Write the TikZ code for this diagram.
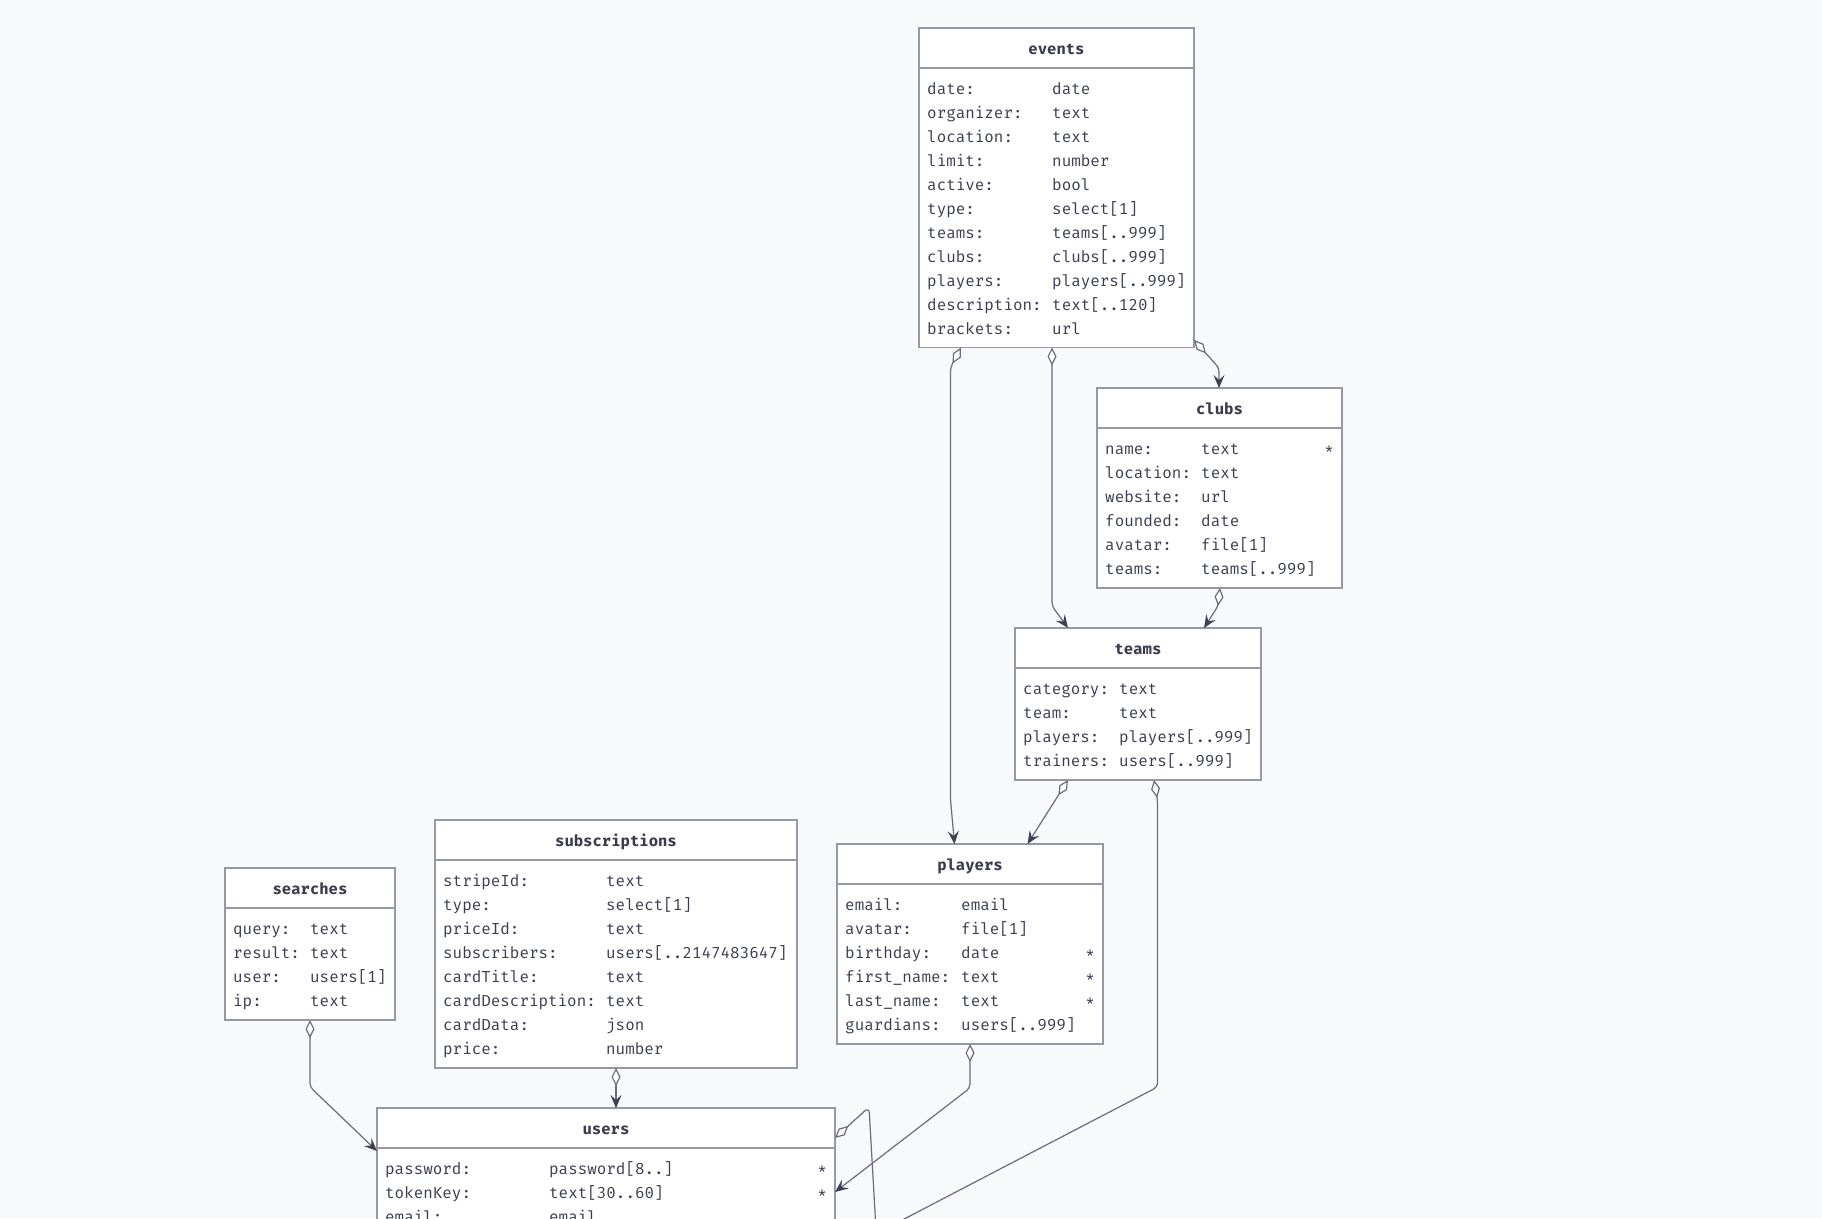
\documentclass[tikz,border=0pt]{standalone}
\usepackage{fontspec}
\setmonofont{Fira Mono}[BoldFont={Fira Mono Bold}]
\usetikzlibrary{arrows.meta,calc}
\definecolor{bg}{RGB}{248,249,251}
\definecolor{boxline}{RGB}{150,152,166}
\definecolor{txt}{RGB}{58,61,80}
\definecolor{linec}{RGB}{105,108,124}
\definecolor{arrc}{RGB}{62,65,84}
\tikzset{
  tbox/.style={draw=boxline, fill=white, line width=1.4pt, inner sep=0pt, outer sep=0pt, anchor=north west},
  hline/.style={draw=boxline, line width=1.4pt},
  ttl/.style={font=\ttfamily\bfseries\fontsize{15.6}{18}\selectfont, text=txt, anchor=base, inner sep=0pt},
  fld/.style={font=\ttfamily\fontsize{15.9}{18}\selectfont, text=txt, anchor=base west, inner sep=0pt},
  req/.style={fld, anchor=base east},
  conn/.style={draw=linec, line width=1.2pt, rounded corners=4pt,
    {Diamond[length=18pt,width=9pt,fill=white,line width=1.2pt]}-{Stealth[length=13pt,width=11pt,inset=5pt,color=arrc]}},
}
% #1 name, #2 title, #3 x, #4 y, #5 width, #6 height
\newcommand\ertable[6]{%
  \node[tbox, minimum width=#5pt, minimum height=#6pt] (#1) at (#3,#4) {};
  \draw[hline] ($(#1.north west)+(0,40)$) -- ($(#1.north east)+(0,40)$);
  \node[ttl] (#1-title) at ($(#1.north)+(0,26)$) {#2};
}
% #1 table, #2 value offset, #3 list key/value
\newcommand\errows[3]{%
  \foreach \k/\v [count=\i] in {#3} {
    \node[fld] (#1-k\i) at ($(#1.north west)+(8,{66.5+24*(\i-1)})$) {\k};
    \node[fld] (#1-v\i) at ($(#1.north west)+(#2,{66.5+24*(\i-1)})$) {\v};
  }
}
% #1 table, #2 row index
\newcommand\erstar[2]{%
  \node[req] (#1-s#2) at ($(#1.north east)+(-8,{66.5+24*(#2-1)})$) {*};
}
\begin{document}
\begin{tikzpicture}[x=1pt,y=-1pt]
\useasboundingbox (0,0) rectangle (1822,1218);
\clip (0,0) rectangle (1822,1218);
\fill[bg] (0,0) rectangle (1822,1218);

\ertable{events}{events}{919}{28}{275}{319.5}
\errows{events}{133}{date:/date, organizer:/text, location:/text, limit:/number, active:/bool, type:/select[1], teams:/teams[..999], clubs:/clubs[..999], players:/players[..999], description:/text[..120], brackets:/url}

\ertable{clubs}{clubs}{1097}{388}{245}{200}
\errows{clubs}{104}{name:/text, location:/text, website:/url, founded:/date, avatar:/file[1], teams:/teams[..999]}
\erstar{clubs}{1}

\ertable{teams}{teams}{1015}{628}{246}{152}
\errows{teams}{104}{category:/text, team:/text, players:/players[..999], trainers:/users[..999]}

\ertable{players}{players}{837}{844}{266}{200}
\errows{players}{124}{email:/email, avatar:/file[1], birthday:/date, first\_name:/text, last\_name:/text, guardians:/users[..999]}
\erstar{players}{3}
\erstar{players}{4}
\erstar{players}{5}

\ertable{searches}{searches}{225}{868}{170}{152}
\errows{searches}{85}{query:/text, result:/text, user:/users[1], ip:/text}

\ertable{subscriptions}{subscriptions}{435}{820}{362}{248}
\errows{subscriptions}{171}{stripeId:/text, type:/select[1], priceId:/text, subscribers:/users[..2147483647], cardTitle:/text, cardDescription:/text, cardData:/json, price:/number}

\ertable{users}{users}{377}{1108}{458}{400}
\errows{users}{172}{password:/password[8..], tokenKey:/text[30..60], email:/email}
\erstar{users}{1}
\erstar{users}{2}

% connectors
\draw[conn] ($(events.south west)+(42,0)$) -- ($(events.south west)+(31.5,20)$) -- ($(players.north west)+(113.5,-44)$) -- ($(players.north west)+(117.5,0)$);
\draw[conn] ($(events.south west)+(133,0)$) -- ($(teams.north west)+(37,-22)$) -- ($(teams.north west)+(53,0)$);
\draw[conn] ($(events.south east)+(0,-7.5)$) -- ($(clubs.north west)+(122,-20)$) -- ($(clubs.north west)+(122,0)$);
\draw[conn] ($(clubs.south west)+(123,0)$) -- ($(teams.north west)+(203,-22)$) -- ($(teams.north west)+(189,0)$);
\draw[conn] ($(teams.south west)+(53,0)$) -- ($(players.north west)+(190.5,0)$);
\draw[conn] ($(teams.south west)+(139,0)$) -- ($(teams.south west)+(142.5,20)$) -- ($(users.north east)+(322.5,-21)$) -- ($(users.north east)+(0,147)$);
\draw[conn] ($(players.south west)+(133,0)$) -- ($(players.south west)+(133,44)$) -- ($(users.north east)+(0,84)$);
\draw[conn, rounded corners=6pt] ($(users.north east)+(0,30)$) -- ($(users.north east)+(34,-1)$) -- ($(users.north east)+(45,192)$) -- ($(users.north east)+(0,230)$);
\draw[conn] ($(searches.south west)+(85,0)$) -- ($(searches.south west)+(85,67)$) -- ($(users.north west)+(0,43)$);
\draw[conn] ($(subscriptions.south west)+(181,0)$) -- ($(users.north west)+(239,0)$);
\end{tikzpicture}
\end{document}
